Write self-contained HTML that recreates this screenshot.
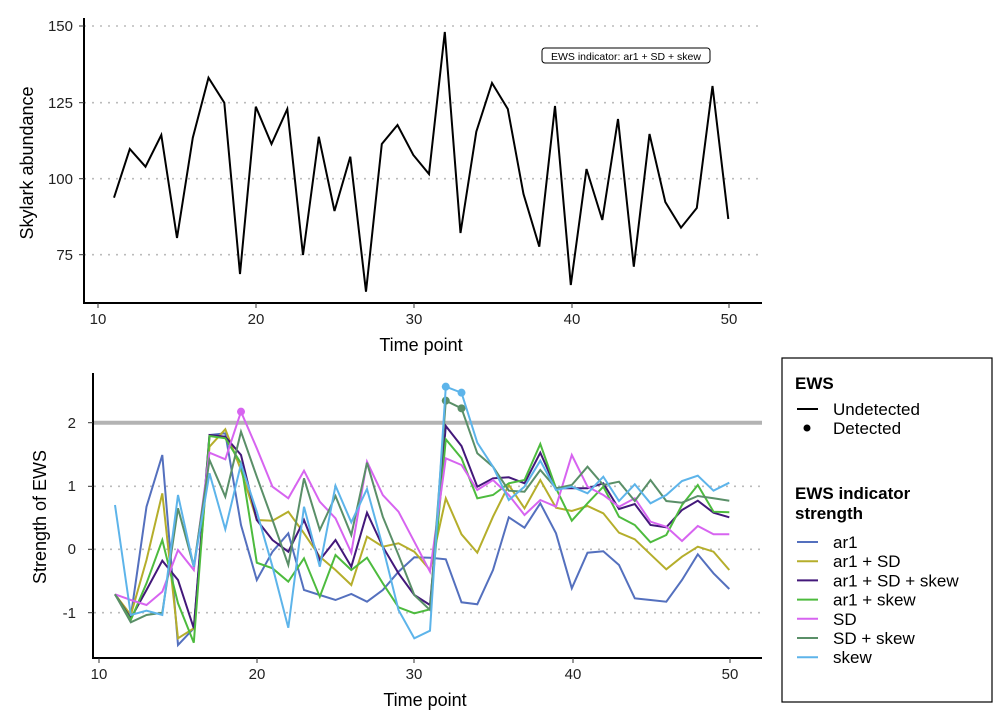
<!DOCTYPE html>
<html><head><meta charset="utf-8"><style>
body{margin:0;background:#fff;font-family:"Liberation Sans",Arial,sans-serif;}
svg text{font-family:"Liberation Sans",Arial,sans-serif;}
</style></head><body>
<svg id="s" width="1008" height="720" xmlns="http://www.w3.org/2000/svg">
<rect width="1008" height="720" fill="#fff"/>
<g stroke="#bbb" stroke-width="1.6" stroke-dasharray="2,6">
<line x1="84" x2="762" y1="26" y2="26"/><line x1="84" x2="762" y1="102.7" y2="102.7"/>
<line x1="84" x2="762" y1="178.7" y2="178.7"/><line x1="84" x2="762" y1="254.7" y2="254.7"/>
</g>
<g stroke="#000" stroke-width="2"><line x1="84" y1="18" x2="84" y2="303"/><line x1="83" y1="303" x2="762" y2="303"/></g>
<g font-size="15" fill="#222" text-anchor="end">
<text x="73" y="31">150</text><text x="73" y="108">125</text><text x="73" y="184">100</text><text x="73" y="260">75</text></g>
<g stroke="#333" stroke-width="1"><line x1="79" x2="84" y1="26" y2="26"/><line x1="79" x2="84" y1="102.7" y2="102.7"/><line x1="79" x2="84" y1="178.7" y2="178.7"/><line x1="79" x2="84" y1="254.7" y2="254.7"/>
<line x1="98" x2="98" y1="303" y2="308"/><line x1="256" x2="256" y1="303" y2="308"/><line x1="414" x2="414" y1="303" y2="308"/><line x1="572" x2="572" y1="303" y2="308"/><line x1="729" x2="729" y1="303" y2="308"/></g>
<g font-size="15" fill="#222" text-anchor="middle">
<text x="98" y="324">10</text><text x="256" y="324">20</text><text x="414" y="324">30</text><text x="572" y="324">40</text><text x="729" y="324">50</text></g>
<text x="421" y="351" font-size="18" text-anchor="middle">Time point</text>
<text transform="translate(33,163) rotate(-90)" font-size="18" text-anchor="middle">Skylark abundance</text>
<rect x="542" y="48" width="168" height="15" rx="3" fill="#fff" stroke="#000" stroke-width="1"/>
<text x="626" y="60" font-size="10.5" text-anchor="middle">EWS indicator: ar1 + SD + skew</text>
<polyline id="topline" fill="none" stroke="#000" stroke-width="2"/>

<g stroke="#bbb" stroke-width="1.6" stroke-dasharray="2,6">
<line x1="94" x2="762" y1="486.3" y2="486.3"/><line x1="94" x2="762" y1="549.3" y2="549.3"/><line x1="94" x2="762" y1="612.7" y2="612.7"/>
</g>
<line x1="94" x2="762" y1="422.7" y2="422.7" stroke="#b3b3b3" stroke-width="4"/>
<g stroke="#000" stroke-width="2"><line x1="93" y1="373" x2="93" y2="658"/><line x1="92" y1="658" x2="762" y2="658"/></g>
<g font-size="15" fill="#222" text-anchor="end">
<text x="76" y="428">2</text><text x="76" y="491">1</text><text x="76" y="554">0</text><text x="76" y="618">-1</text></g>
<g stroke="#333" stroke-width="1"><line x1="88" x2="93" y1="422.7" y2="422.7"/><line x1="88" x2="93" y1="486.3" y2="486.3"/><line x1="88" x2="93" y1="549.3" y2="549.3"/><line x1="88" x2="93" y1="612.7" y2="612.7"/>
<line x1="99" x2="99" y1="658" y2="663"/><line x1="257" x2="257" y1="658" y2="663"/><line x1="414" x2="414" y1="658" y2="663"/><line x1="573" x2="573" y1="658" y2="663"/><line x1="730" x2="730" y1="658" y2="663"/></g>
<g font-size="15" fill="#222" text-anchor="middle">
<text x="99" y="679">10</text><text x="257" y="679">20</text><text x="414" y="679">30</text><text x="573" y="679">40</text><text x="730" y="679">50</text></g>
<text x="425" y="706" font-size="18" text-anchor="middle">Time point</text>
<text transform="translate(46,517) rotate(-90)" font-size="18" text-anchor="middle">Strength of EWS</text>
<g id="series"></g>

<rect x="782" y="358" width="210" height="344" fill="#fff" stroke="#000" stroke-width="1.2"/>
<text x="795" y="389" font-size="17" font-weight="bold">EWS</text>
<line x1="797" x2="818" y1="409" y2="409" stroke="#000" stroke-width="2"/>
<text x="833" y="415" font-size="17">Undetected</text>
<circle cx="807" cy="428" r="3.5" fill="#000"/>
<text x="833" y="434" font-size="17">Detected</text>
<text x="795" y="499" font-size="17" font-weight="bold">EWS indicator</text>
<text x="795" y="519" font-size="17" font-weight="bold">strength</text>
<g id="leg"></g>
</svg>
<script>
var topData=[197.7,149,166.7,135,238,137.7,77.7,102.7,274,106.7,144,109,255,136.7,211,156.7,291.7,144,125,155,174,32,233,131.7,83,109,194,246.7,106,285,169,220,119,266.7,134,202,227.7,208,86,219];
var p=[];for(var i=0;i<topData.length;i++)p.push((114+15.75*i).toFixed(1)+","+topData[i]);
document.getElementById("topline").setAttribute("points",p.join(" "));
var S=[
["ar1","#5470BE",[673,740,410,255,825,775,195,190,465,630,545,490,660,675,690,672,695,660,605,562,563,568,697,703,600,442,473,400,490,655,548,544,585,685,690,695,630,553,610,657],[]],
["ar1 + SD","#B5AE2B",[673,735,570,370,805,775,230,178,300,450,452,425,490,560,600,645,500,530,520,545,600,385,493,548,440,345,415,330,413,423,408,430,488,508,553,598,560,530,545,600],[]],
["ar1 + SD + skew","#43187A",[673,745,660,572,630,775,195,200,255,450,510,545,450,570,510,590,428,530,610,675,705,168,228,350,325,322,340,248,355,355,355,340,417,402,465,472,420,392,428,442],[]],
["ar1 + skew","#4DBB3E",[673,750,640,510,700,818,198,205,280,578,595,635,565,680,555,600,563,640,712,730,718,208,265,385,375,340,330,222,355,452,400,350,440,465,517,495,405,345,425,427],[]],
["SD","#D764F0",[673,690,705,665,540,600,248,268,125,235,350,385,302,395,445,548,275,375,425,515,605,265,285,360,330,375,435,390,410,255,350,375,410,385,455,470,513,468,493,493],[8]],
["SD + skew","#5A8F68",[673,757,735,728,415,590,270,380,185,320,450,585,325,480,378,495,278,440,555,675,720,92,115,250,290,362,365,300,355,345,290,345,335,393,330,393,398,378,385,392],[21,22]],
["skew","#5DB4EA",[405,735,722,735,375,590,310,478,282,425,590,773,410,590,347,457,357,530,720,805,782,50,68,218,290,390,350,272,360,350,370,320,393,343,400,375,333,317,362,338],[21,22]]];
var g=document.getElementById("series"),L=document.getElementById("leg"),h="";
S.forEach(function(s,k){var pts=[];s[2].forEach(function(v,i){pts.push((115+15.75*i).toFixed(1)+","+(370+v/3).toFixed(1));});
h+='<polyline fill="none" stroke="'+s[1]+'" stroke-width="2" points="'+pts.join(" ")+'"/>';
s[3].forEach(function(i){h+='<circle cx="'+(115+15.75*i)+'" cy="'+(370+s[2][i]/3)+'" r="4" fill="'+s[1]+'"/>';});});
g.innerHTML=h;
var lh="";S.forEach(function(s,k){var y=542+k*19.2;lh+='<line x1="797" x2="818" y1="'+y+'" y2="'+y+'" stroke="'+s[1]+'" stroke-width="2"/><text x="833" y="'+(y+6)+'" font-size="17">'+s[0]+'</text>';});
L.innerHTML=lh;
</script>
</body></html>
